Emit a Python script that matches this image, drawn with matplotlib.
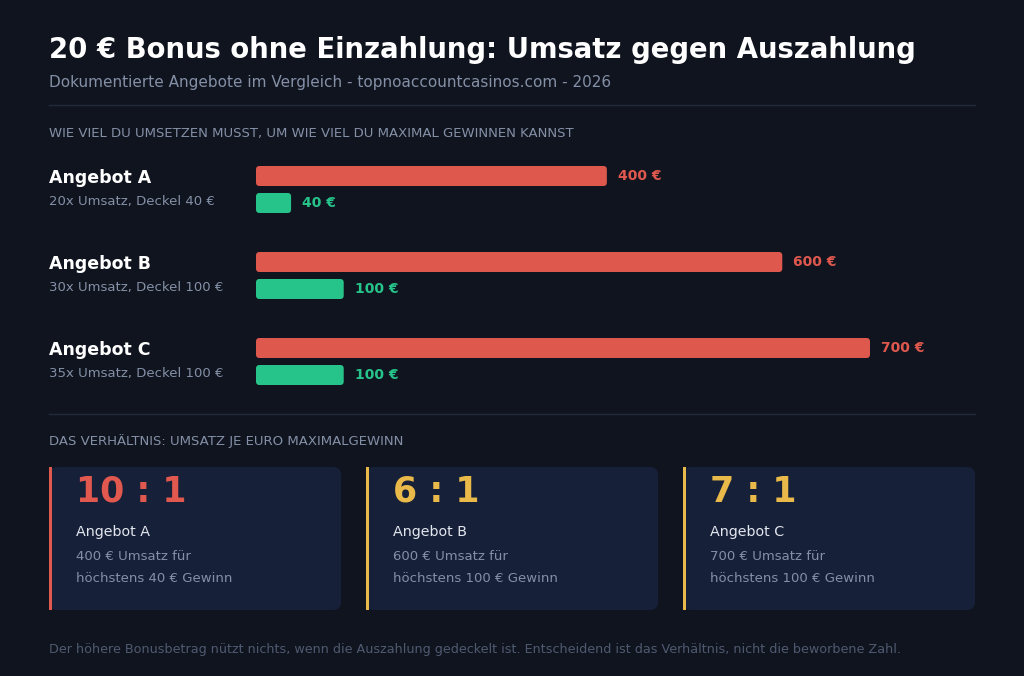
import matplotlib
matplotlib.use("Agg")
import matplotlib.pyplot as plt
from matplotlib.patches import FancyBboxPatch, Rectangle

# ---- data ----
offers = ["Angebot A", "Angebot B", "Angebot C"]
multipliers = [20, 30, 35]
wagering = [400, 600, 700]      # Umsatz in €
caps = [40, 100, 100]           # max. Gewinn in €
ratio_colors = ["#e0584e", "#e9b949", "#e9b949"]

title = "20 € Bonus ohne Einzahlung: Umsatz gegen Auszahlung"
subtitle = "Dokumentierte Angebote im Vergleich - topnoaccountcasinos.com - 2026"
section1 = "WIE VIEL DU UMSETZEN MUSST, UM WIE VIEL DU MAXIMAL GEWINNEN KANNST"
section2 = "DAS VERHÄLTNIS: UMSATZ JE EURO MAXIMALGEWINN"
footer = ("Der höhere Bonusbetrag nützt nichts, wenn die Auszahlung gedeckelt ist. "
          "Entscheidend ist das Verhältnis, nicht die beworbene Zahl.")

# ---- style ----
plt.rcParams["font.family"] = ["DejaVu Sans"]
BG = "#10141f"
CARD = "#172039"
RED = "#df584e"
GREEN = "#26c48a"
WHITE = "#ffffff"
MUTED = "#8490a6"
DIM = "#4f5a70"
SEP = "#222b3d"

W, H = 1024, 676
fig = plt.figure(figsize=(W / 100, H / 100), dpi=100, facecolor=BG)


def fx(x):
    return x / W


def fy(y):
    return 1 - y / H


# overlay axes in pixel coordinates for layout elements
ov = fig.add_axes([0, 0, 1, 1])
ov.set_xlim(0, W)
ov.set_ylim(H, 0)
ov.axis("off")
ov.set_zorder(0)

ov.text(49, 50, title, color=WHITE, fontsize=19.8, fontweight="bold", va="center", ha="left")
ov.text(49, 82, subtitle, color=MUTED, fontsize=11, va="center", ha="left")
ov.plot([49, 975], [104.5, 104.5], color=SEP, lw=1)
ov.text(49, 134, section1, color=MUTED, fontsize=9.5, va="center", ha="left")
ov.plot([49, 975], [413.5, 413.5], color=SEP, lw=1)
ov.text(49, 441, section2, color=MUTED, fontsize=9.5, va="center", ha="left")
ov.text(49, 649, footer, color=DIM, fontsize=9.2, va="center", ha="left")

# row labels
row_y0, row_dy = 177, 86
for i, (name, m, c) in enumerate(zip(offers, multipliers, caps)):
    y = row_y0 + i * row_dy
    ov.text(49, y + 1, name, color=WHITE, fontsize=12.5, fontweight="bold", va="center", ha="left")
    ov.text(49, y + 24, f"{m}x Umsatz, Deckel {c} €", color=MUTED, fontsize=9.5, va="center", ha="left")

# ---- bar axes: x from 256 px to 870 px maps 0..700 € ----
x0_px, x1_px = 256, 870
ytop_px, ybot_px = 140, 400
ax = fig.add_axes([fx(x0_px), fy(ybot_px), (x1_px - x0_px) / W, (ybot_px - ytop_px) / H])
ax.set_facecolor("none")
ax.axis("off")
xmax = max(wagering)
ax.set_xlim(0, xmax)
# y in units of rows (1 row = 86 px)
ylo = (ybot_px - 189.5) / row_dy
yhi = (ytop_px - 189.5) / row_dy
ax.set_ylim(ylo, yhi)
ax.set_zorder(2)

px_per_x = (x1_px - x0_px) / xmax
px_per_y = row_dy
bar_h = 20 / px_per_y
off = 13.5 / px_per_y
rad_px = 3.5
mut_aspect = (1 / px_per_y) / (1 / px_per_x)


def rbar(ax, y, val, color):
    p = FancyBboxPatch((0, y - bar_h / 2), val, bar_h,
                       boxstyle=f"round,pad=0,rounding_size={rad_px / px_per_x}",
                       mutation_aspect=mut_aspect, facecolor=color, edgecolor="none")
    ax.add_patch(p)


for i, (w, c) in enumerate(zip(wagering, caps)):
    rbar(ax, i - off, w, RED)
    rbar(ax, i + off, c, GREEN)
    ax.text(w + 11 / px_per_x, i - off, f"{w} €", color=RED, fontsize=10,
            fontweight="bold", va="center", ha="left")
    ax.text(c + 11 / px_per_x, i + off, f"{c} €", color=GREEN, fontsize=10,
            fontweight="bold", va="center", ha="left")

# ---- ratio cards ----
card_x = [49, 366, 683]
card_w = 292
card_top, card_bot = 467, 610
for i, (name, w, c, col) in enumerate(zip(offers, wagering, caps, ratio_colors)):
    x = card_x[i]
    card = FancyBboxPatch((x, card_top), card_w, card_bot - card_top,
                          boxstyle="round,pad=0,rounding_size=8",
                          facecolor=CARD, edgecolor="none", zorder=1)
    ov.add_patch(card)
    ov.add_patch(Rectangle((x, card_top), 3, card_bot - card_top,
                           facecolor=col, edgecolor="none", zorder=2))
    ratio = round(w / c)
    ov.text(x + 27, 492, f"{ratio} : 1", color=col, fontsize=25, fontweight="bold",
            va="center", ha="left", zorder=3)
    ov.text(x + 27, 532, name, color="#e2e6ee", fontsize=10.3, va="center", ha="left", zorder=3)
    ov.text(x + 27, 556, f"{w} € Umsatz für", color=MUTED, fontsize=9.5,
            va="center", ha="left", zorder=3)
    ov.text(x + 27, 579, f"höchstens {c} € Gewinn", color=MUTED, fontsize=9.5,
            va="center", ha="left", zorder=3)

fig.savefig("out.png", dpi=100, facecolor=BG)
